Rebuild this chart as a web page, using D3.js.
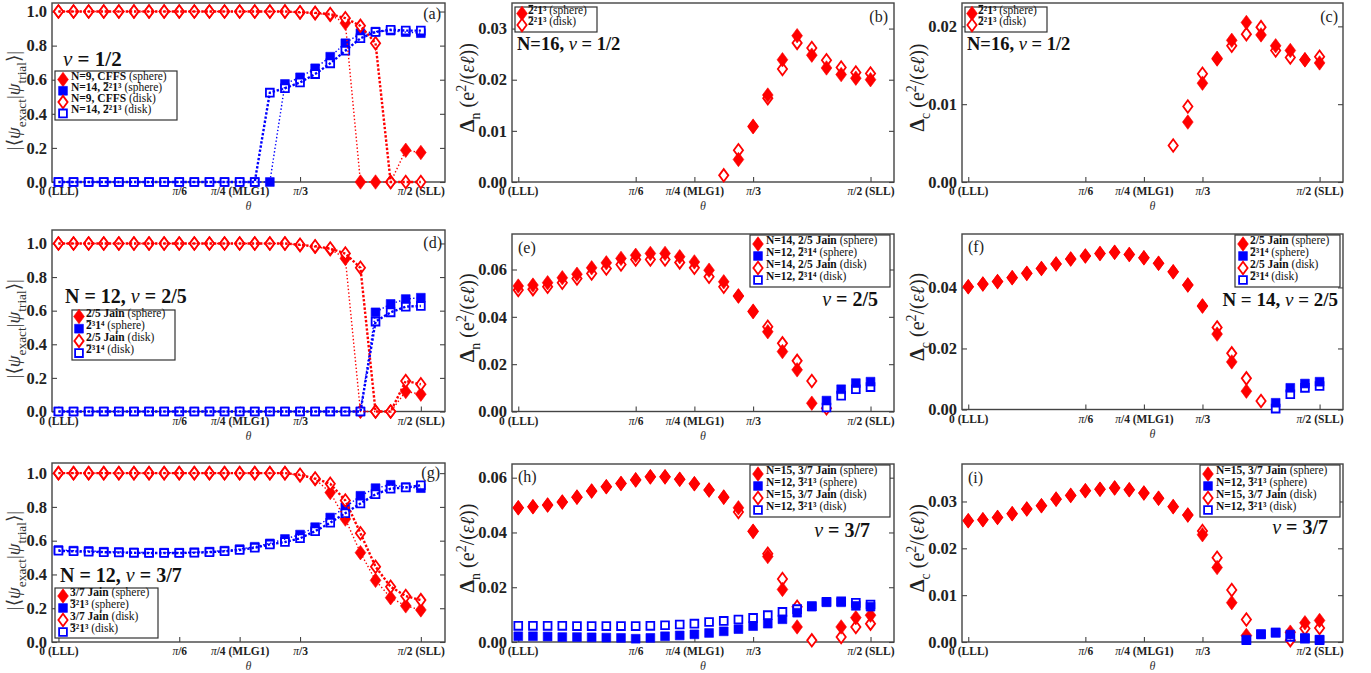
<!DOCTYPE html>
<html><head><meta charset="utf-8">
<script src="https://cdn.jsdelivr.net/npm/d3@7"></script>
<style>body{margin:0;background:#fff} svg text{font-family:"Liberation Serif","DejaVu Serif",serif}</style>
</head><body><svg id="c" width="1371" height="673"></svg>
<script>
// ---------------- data ----------------
const thetaDeg = [0,3.75,7.5,11.25,15,18.75,22.5,26.25,30,33.75,37.5,41.25,45,48.75,52.5,56.25,60,63.75,67.5,71.25,75,78.75,82.5,86.25,90];
const xTickValues = [0,30,45,60,90];
const xTickLabels = [["","0 (LLL)"],["π","/6"],["π","/4 (MLG1)"],["π","/3"],["π","/2 (SLL)"]];
const N = null;

// (a) overlaps, nu=1/2
const a_redSphere  = [1,1,1,1,1,1,1,1,1,1,1,1,1,1,1,1,0.994,0.99,0.98,0.932,0,0,0,0.186,0.173];
const a_blueSphere = [0,0,0,0,0,0,0,0,0,0,0,0,0,0,0,0.575,0.614,0.667,0.735,0.814,0.873,0.882,0.888,0.879,0.873];
const a_redDisk    = [1,1,1,1,1,1,1,1,1,1,1,1,1,1,1,1,0.996,0.992,0.985,0.961,0.916,0.814,0,0,0];
const a_blueDisk   = [0,0,0,0,0,0,0,0,0,0,0,0,0,0,0.524,0.55,0.584,0.633,0.696,0.77,0.843,0.88,0.893,0.888,0.888];
// (b) Delta_n, N=16 nu=1/2
const b_sphere = [N,N,N,N,N,N,N,N,N,N,N,N,N,N,N,0.0044,0.0108,0.0170,0.0239,0.0286,0.0248,0.0223,0.0210,0.0203,0.0200];
const b_disk   = [N,N,N,N,N,N,N,N,N,N,N,N,N,N,0.0013,0.0062,0.0109,0.0164,0.0221,0.0272,0.0262,0.0238,0.0224,0.0214,0.0212];
// (c) Delta_c, N=16 nu=1/2
const c_sphere = [N,N,N,N,N,N,N,N,N,N,N,N,N,N,N,0.0077,0.0127,0.0159,0.0182,0.0205,0.0189,0.0175,0.0169,0.0157,0.0153];
const c_disk   = [N,N,N,N,N,N,N,N,N,N,N,N,N,N,0.0047,0.0097,0.0139,0.0158,0.0175,0.0190,0.0199,0.0169,0.0160,0.0157,0.0161];
// (d) overlaps, N=12 nu=2/5
const d_redSphere  = [1,1,1,1,1,1,1,1,1,1,1,1,1,1,1,1,0.99,0.98,0.966,0.911,0,0,0,0.119,0.103];
const d_blueSphere = [0,0,0,0,0,0,0,0,0,0,0,0,0,0,0,0,0,0,0,0,0,0.59,0.64,0.669,0.677];
const d_redDisk    = [1,1,1,1,1,1,1,1,1,1,1,1,1,1,1,1,0.992,0.983,0.97,0.94,0.855,0,0,0.182,0.162];
const d_blueDisk   = [0,0,0,0,0,0,0,0,0,0,0,0,0,0,0,0,0,0,0,0,0,0.535,0.59,0.624,0.628];
// (e) Delta_n, nu=2/5
const e_redSphere  = [0.0530,0.0534,0.0544,0.0565,0.0580,0.0607,0.0628,0.0647,0.0660,0.0668,0.0668,0.0654,0.0632,0.0597,0.0548,0.0488,0.0422,0.0337,0.0253,0.0176,0.0035,N,N,N,N];
const e_blueSphere = [N,N,N,N,N,N,N,N,N,N,N,N,N,N,N,N,N,N,N,N,N,0.0046,0.0094,0.0120,0.0126];
const e_redDisk    = [0.0513,0.0517,0.0527,0.0544,0.0562,0.0583,0.0604,0.0621,0.0642,0.0642,0.0642,0.0630,0.0607,0.0569,0.0527,0.0488,0.0424,0.0358,0.0288,0.0214,0.0129,0.0014,N,N,N];
const e_blueDisk   = [N,N,N,N,N,N,N,N,N,N,N,N,N,N,N,N,N,N,N,N,N,0.0017,0.0067,0.0094,0.0103];
// (f) Delta_c, N=14 nu=2/5
const f_redSphere  = [0.0402,0.0411,0.0419,0.0432,0.0446,0.0462,0.0477,0.0493,0.0503,0.0511,0.0515,0.0508,0.0497,0.0479,0.0451,0.0408,0.0339,0.0247,0.0156,0.0060,N,N,N,N,N];
const f_blueSphere = [N,N,N,N,N,N,N,N,N,N,N,N,N,N,N,N,N,N,N,N,N,0.0022,0.0071,0.0085,0.0091];
const f_redDisk    = [0.0402,0.0411,0.0419,0.0432,0.0446,0.0462,0.0477,0.0493,0.0503,0.0511,0.0515,0.0508,0.0497,0.0479,0.0451,0.0408,0.0339,0.0269,0.0184,0.0102,0.0028,N,N,N,N];
const f_blueDisk   = [N,N,N,N,N,N,N,N,N,N,N,N,N,N,N,N,N,N,N,N,N,0.0003,0.0050,0.0071,0.0077];
// (g) overlaps, N=12 nu=3/7
const g_redSphere  = [1,1,1,1,1,1,1,1,1,1,1,1,1,1,1,1,0.986,0.965,0.885,0.728,0.529,0.365,0.262,0.214,0.19];
const g_blueSphere = [0.545,0.541,0.539,0.535,0.533,0.531,0.529,0.529,0.529,0.531,0.535,0.541,0.55,0.564,0.584,0.61,0.636,0.68,0.737,0.798,0.866,0.911,0.931,0.917,0.911];
const g_redDisk    = [1,1,1,1,1,1,1,1,1,1,1,1,1,1,1,1,0.99,0.968,0.937,0.838,0.644,0.446,0.327,0.272,0.248];
const g_blueDisk   = [0.540,0.537,0.535,0.532,0.530,0.528,0.527,0.527,0.527,0.529,0.532,0.537,0.545,0.558,0.578,0.592,0.614,0.656,0.706,0.763,0.82,0.875,0.908,0.915,0.928];
// (h) Delta_n, nu=3/7
const h_redSphere  = [0.0490,0.0494,0.0500,0.0511,0.0529,0.0551,0.0567,0.0579,0.0592,0.0603,0.0603,0.0594,0.0578,0.0555,0.0529,0.0490,0.0404,0.0312,0.0192,0.0055,N,N,0.0055,0.0089,0.0098];
const h_blueSphere = [0.0021,0.0021,0.0020,0.0018,0.0018,0.0017,0.0016,0.0015,0.0012,0.0015,0.0021,0.0024,0.0028,0.0033,0.0039,0.0047,0.0058,0.0067,0.0083,0.0107,0.0129,0.0145,0.0145,0.0132,0.0129];
const h_redDisk    = [0.0490,0.0494,0.0500,0.0511,0.0529,0.0551,0.0567,0.0579,0.0592,0.0603,0.0603,0.0594,0.0578,0.0555,0.0529,0.0475,0.0404,0.0322,0.0230,0.0129,0.0006,N,0.0018,0.0055,0.0067];
const h_blueDisk   = [0.0059,0.0059,0.0059,0.0059,0.0058,0.0058,0.0058,0.0058,0.0058,0.0059,0.0061,0.0064,0.0067,0.0073,0.0077,0.0082,0.0088,0.0098,0.0110,0.0120,0.0131,0.0147,0.0149,0.0143,0.0137];
// (i) Delta_c, nu=3/7
const i_redSphere  = [0.0259,0.0261,0.0266,0.0274,0.0284,0.0291,0.0305,0.0313,0.0323,0.0326,0.0329,0.0325,0.0318,0.0307,0.0289,0.0271,0.0229,0.0159,0.0084,0.0014,N,N,0.0021,0.0041,0.0046];
const i_blueSphere = [N,N,N,N,N,N,N,N,N,N,N,N,N,N,N,N,N,N,N,0.0005,0.0016,0.0020,0.0016,0.0009,0.0005];
const i_redDisk    = [0.0259,0.0261,0.0266,0.0274,0.0284,0.0291,0.0305,0.0313,0.0323,0.0326,0.0329,0.0325,0.0318,0.0307,0.0289,0.0271,0.0237,0.0180,0.0111,0.0048,N,N,0.0004,0.0029,0.0030];
const i_blueDisk   = [N,N,N,N,N,N,N,N,N,N,N,N,N,N,N,N,N,N,N,0.0004,0.0017,0.0020,0.0011,0.0007,0.0004];

const yTicksOverlap = [0,0.2,0.4,0.6,0.8,1.0];

// ---------------- drawing ----------------
const svg = d3.select('#c');
const RED = '#ff0000', BLUE = '#0000ff';
const cols = [{l:52,r:445},{l:512,r:894},{l:962,r:1343}];
const xDomain = [-1.6, 96];
const LEGEND_FONT = 11.5;

const thinDiamond = {draw(ctx, s){const hy=s/2, hx=s*0.37; ctx.moveTo(0,-hy); ctx.lineTo(hx,0); ctx.lineTo(0,hy); ctx.lineTo(-hx,0); ctx.closePath();}};
const square = {draw(ctx, s){ctx.rect(-s/2,-s/2,s,s);}};

// rich text with tspans; overlined chars get a drawn bar
function rich(t, segs, base, parent){
  let cur = 0, idx = 0; const overs = [];
  segs.forEach(s=>{
    const small = s.sub||s.sup;
    const size = small ? base*0.7 : base;
    const target = s.sub ? base*0.3 : (s.sup ? -base*0.38 : 0);
    const ts = t.append('tspan').text(s.t).attr('font-size', size).attr('dy', target-cur);
    cur = target;
    if (s.b) ts.attr('font-weight','bold');
    if (s.i) ts.attr('font-style','italic');
    if (s.o) overs.push([idx, s.t.length]);
    idx += s.t.length;
  });
  if (parent && overs.length){
    const node = t.node();
    overs.forEach(([start,len])=>{
      const e0 = node.getExtentOfChar(start), e1 = node.getExtentOfChar(start+len-1);
      const yy = e0.y + 0.17*base;
      parent.append('line').attr('x1',e0.x+0.5).attr('x2',e1.x+e1.width-0.5).attr('y1',yy).attr('y2',yy)
        .attr('stroke','#111').attr('stroke-width',1.1);
    });
  }
}

const lgSph = (pre, sym, kind) => {
  const segs = [];
  if (pre) segs.push({t:pre, b:1});
  if (sym) { segs.push({t:sym[0], b:1, o:1}); segs.push({t:sym[1]+' ', b:1}); }
  segs.push({t:'('+kind+')'});
  return segs;
};

function mkSeries(vals, color, filled, shape){ return {vals, color, filled, shape}; }

const panels = [
 {c:0, top:3, bot:182, yd:[0,1.05], yt:yTicksOverlap, fmt:'.1f', kind:'ov', lines:true,
  series:[mkSeries(a_redSphere,RED,true,'d'),mkSeries(a_blueSphere,BLUE,true,'s'),mkSeries(a_redDisk,RED,false,'d'),mkSeries(a_blueDisk,BLUE,false,'s')],
  legend:{x:55,y:71,w:122,h:49,y0:79.5,dy:11.3,mx:63,tx:71,labels:[lgSph('N=9, CFFS ',null,'sphere'),lgSph('N=14, ',['2','²1³'],'sphere'),lgSph('N=9, CFFS ',null,'disk'),lgSph('N=14, ',['2','²1³'],'disk')]},
  tag:{t:'(a)',x:441,y:19,a:'end'},
  note:{x:63,y:66,a:'start',size:21,segs:[{t:'ν',i:1},{t:' = 1/2',b:1}]}},
 {c:1, top:3, bot:182, yd:[0,0.035], yt:[0,0.01,0.02,0.03], fmt:'.2f', kind:'dn', lines:false,
  series:[mkSeries(b_sphere,RED,true,'d'),mkSeries(b_disk,RED,false,'d')],
  legend:{x:515,y:7,w:82,h:25,y0:13.5,dy:11.5,mx:522,tx:528,labels:[lgSph('',['2','²1³'],'sphere'),lgSph('',['2','²1³'],'disk')]},
  tag:{t:'(b)',x:888,y:22,a:'end'},
  note:{x:517,y:50,a:'start',size:18.5,segs:[{t:'N=16, ',b:1},{t:'ν',i:1},{t:' = 1/2',b:1}]}},
 {c:2, top:3, bot:182, yd:[0,0.023], yt:[0,0.01,0.02], fmt:'.2f', kind:'dc', lines:false,
  series:[mkSeries(c_sphere,RED,true,'d'),mkSeries(c_disk,RED,false,'d')],
  legend:{x:965,y:7,w:82,h:25,y0:13.5,dy:11.5,mx:972,tx:978,labels:[lgSph('',['2','²1³'],'sphere'),lgSph('',['2','²1³'],'disk')]},
  tag:{t:'(c)',x:1338,y:22,a:'end'},
  note:{x:967,y:50,a:'start',size:18.5,segs:[{t:'N=16, ',b:1},{t:'ν',i:1},{t:' = 1/2',b:1}]}},
 {c:0, top:230, bot:411.5, yd:[0,1.08], yt:yTicksOverlap, fmt:'.1f', kind:'ov', lines:true,
  series:[mkSeries(d_redSphere,RED,true,'d'),mkSeries(d_blueSphere,BLUE,true,'s'),mkSeries(d_redDisk,RED,false,'d'),mkSeries(d_blueDisk,BLUE,false,'s')],
  legend:{x:72,y:310,w:103,h:50,y0:316.5,dy:12.2,mx:79,tx:86,labels:[lgSph('2/5 Jain ',null,'sphere'),lgSph('',['2','³1⁴'],'sphere'),lgSph('2/5 Jain ',null,'disk'),lgSph('',['2','³1⁴'],'disk')]},
  tag:{t:'(d)',x:442,y:248,a:'end'},
  note:{x:65,y:303,a:'start',size:20,segs:[{t:'N = 12,  ',b:1},{t:'ν',i:1},{t:' = 2/5',b:1}]}},
 {c:1, top:234, bot:411.5, yd:[0,0.075], yt:[0,0.02,0.04,0.06], fmt:'.2f', kind:'dn', lines:false,
  series:[mkSeries(e_redSphere,RED,true,'d'),mkSeries(e_blueSphere,BLUE,true,'s'),mkSeries(e_redDisk,RED,false,'d'),mkSeries(e_blueDisk,BLUE,false,'s')],
  legend:{x:750,y:235,w:140,h:52,y0:244,dy:12,mx:758,tx:766,labels:[lgSph('N=14, 2/5 Jain ',null,'sphere'),lgSph('N=12, ',['2','³1⁴'],'sphere'),lgSph('N=14, 2/5 Jain ',null,'disk'),lgSph('N=12, ',['2','³1⁴'],'disk')]},
  tag:{t:'(e)',x:518,y:253,a:'start'},
  note:{x:878,y:306,a:'end',size:20,segs:[{t:'ν',i:1},{t:' = 2/5',b:1}]}},
 {c:2, top:234, bot:409.5, yd:[0,0.0575], yt:[0,0.02,0.04], fmt:'.2f', kind:'dc', lines:false,
  series:[mkSeries(f_redSphere,RED,true,'d'),mkSeries(f_blueSphere,BLUE,true,'s'),mkSeries(f_redDisk,RED,false,'d'),mkSeries(f_blueDisk,BLUE,false,'s')],
  legend:{x:1235,y:235,w:105,h:52,y0:244,dy:12,mx:1243,tx:1250,labels:[lgSph('2/5 Jain ',null,'sphere'),lgSph('',['2','³1⁴'],'sphere'),lgSph('2/5 Jain ',null,'disk'),lgSph('',['2','³1⁴'],'disk')]},
  tag:{t:'(f)',x:968,y:252,a:'start'},
  note:{x:1338,y:306,a:'end',size:19,segs:[{t:'N = 14,  ',b:1},{t:'ν',i:1},{t:' = 2/5',b:1}]}},
 {c:0, top:463, bot:642, yd:[0,1.06], yt:yTicksOverlap, fmt:'.1f', kind:'ov', lines:true,
  series:[mkSeries(g_redSphere,RED,true,'d'),mkSeries(g_blueSphere,BLUE,true,'s'),mkSeries(g_redDisk,RED,false,'d'),mkSeries(g_blueDisk,BLUE,false,'s')],
  legend:{x:55,y:588,w:103,h:50,y0:596,dy:12,mx:63,tx:70,labels:[lgSph('3/7 Jain ',null,'sphere'),lgSph('',['3','²1³'],'sphere'),lgSph('3/7 Jain ',null,'disk'),lgSph('',['3','²1³'],'disk')]},
  tag:{t:'(g)',x:440,y:478,a:'end'},
  note:{x:60,y:582,a:'start',size:20,segs:[{t:'N = 12,  ',b:1},{t:'ν',i:1},{t:' = 3/7',b:1}]}},
 {c:1, top:464, bot:642, yd:[0,0.065], yt:[0,0.02,0.04,0.06], fmt:'.2f', kind:'dn', lines:false,
  series:[mkSeries(h_redSphere,RED,true,'d'),mkSeries(h_blueSphere,BLUE,true,'s'),mkSeries(h_redDisk,RED,false,'d'),mkSeries(h_blueDisk,BLUE,false,'s')],
  legend:{x:750,y:465,w:140,h:52,y0:474,dy:12,mx:758,tx:766,labels:[lgSph('N=15, 3/7 Jain ',null,'sphere'),lgSph('N=12, ',['3','²1³'],'sphere'),lgSph('N=15, 3/7 Jain ',null,'disk'),lgSph('N=12, ',['3','²1³'],'disk')]},
  tag:{t:'(h)',x:518,y:482,a:'start'},
  note:{x:870,y:537,a:'end',size:20,segs:[{t:'ν',i:1},{t:' = 3/7',b:1}]}},
 {c:2, top:464, bot:642, yd:[0,0.038], yt:[0,0.01,0.02,0.03], fmt:'.2f', kind:'dc', lines:false,
  series:[mkSeries(i_redSphere,RED,true,'d'),mkSeries(i_blueSphere,BLUE,true,'s'),mkSeries(i_redDisk,RED,false,'d'),mkSeries(i_blueDisk,BLUE,false,'s')],
  legend:{x:1200,y:465,w:140,h:52,y0:474,dy:12,mx:1208,tx:1216,labels:[lgSph('N=15, 3/7 Jain ',null,'sphere'),lgSph('N=12, ',['3','²1³'],'sphere'),lgSph('N=15, 3/7 Jain ',null,'disk'),lgSph('N=12, ',['3','²1³'],'disk')]},
  tag:{t:'(i)',x:968,y:483,a:'start'},
  note:{x:1328,y:534,a:'end',size:20,segs:[{t:'ν',i:1},{t:' = 3/7',b:1}]}}
];

function drawMarker(sel, shape, color, filled){
  const sym = d3.symbol().type(shape==='d'?thinDiamond:square).size(shape==='d'?(filled?14.5:12.5):(filled?8.8:7.8));
  sel.attr('d', sym).attr('fill', filled?color:'#fff').attr('stroke', color)
     .attr('stroke-width', filled?0.6:1.8).attr('stroke-linejoin','miter');
}

panels.forEach(p=>{
  const col = cols[p.c];
  const x = d3.scaleLinear().domain(xDomain).range([col.l, col.r]);
  const y = d3.scaleLinear().domain(p.yd).range([p.bot, p.top]);
  const g = svg.append('g');

  // frame
  g.append('rect').attr('x',col.l).attr('y',p.top).attr('width',col.r-col.l).attr('height',p.bot-p.top)
    .attr('fill','none').attr('stroke','#444').attr('stroke-width',1.4);

  // axes
  const ax = g.append('g').attr('transform',`translate(${col.l},0)`)
    .call(d3.axisLeft(y).tickValues(p.yt).tickFormat(d3.format(p.fmt)).tickSizeInner(-5).tickSizeOuter(0).tickPadding(5));
  ax.select('.domain').remove();
  ax.selectAll('line').attr('stroke','#444').attr('stroke-width',1.1);
  ax.selectAll('text').attr('font-size',16.5).attr('font-weight','bold').attr('fill','#222')
    .attr('font-family','"Liberation Serif",serif');

  const axr = g.append('g').attr('transform',`translate(${col.r},0)`)
    .call(d3.axisRight(y).tickValues(p.yt).tickFormat('').tickSizeInner(-5).tickSizeOuter(0));
  axr.select('.domain').remove();
  axr.selectAll('line').attr('stroke','#444').attr('stroke-width',1.1);

  const axb = g.append('g').attr('transform',`translate(0,${p.bot})`)
    .call(d3.axisBottom(x).tickValues(xTickValues).tickFormat('').tickSizeInner(-5).tickSizeOuter(0).tickPadding(5));
  axb.select('.domain').remove();
  axb.selectAll('line').attr('stroke','#444').attr('stroke-width',1.1);
  axb.selectAll('.tick text').each(function(d,i){
    const t = d3.select(this).text(null).attr('font-size',11.5).attr('fill','#222').attr('dy','0.71em');
    const lab = xTickLabels[i];
    if (lab[0]) t.append('tspan').attr('font-style','italic').text(lab[0]);
    t.append('tspan').attr('font-weight','bold').text(lab[1]);
  });

  // theta label
  g.append('text').attr('x',(col.l+col.r)/2).attr('y',p.bot+28).attr('text-anchor','middle')
    .attr('font-size',12).attr('font-style','italic').attr('fill','#333').text('θ');

  // y label
  const cy = (p.top+p.bot)/2;
  if (p.kind==='ov'){
    const t = g.append('text').attr('transform',`translate(20,${cy+8}) rotate(-90)`).attr('text-anchor','middle').attr('fill','#333');
    rich(t,[{t:'|⟨'},{t:'ψ',i:1},{t:'exact',sub:1},{t:'|'},{t:'ψ',i:1},{t:'trial',sub:1},{t:'⟩|'}],19);
  } else {
    const lx = p.c===1 ? 474 : 924;
    const t = g.append('text').attr('transform',`translate(${lx},${cy-5}) rotate(-90)`).attr('text-anchor','middle').attr('fill','#222');
    rich(t,[{t:'Δ',b:1},{t:p.kind==='dn'?'n':'c',sub:1},{t:' (e'},{t:'2',sup:1},{t:'/('},{t:'εℓ',i:1},{t:'))'}],20);
  }

  // markers: overlap panels -> open (disk) drawn on top; gap panels -> filled (sphere) on top
  const order = p.lines ? p.series : p.series.filter(s=>!s.filled).concat(p.series.filter(s=>s.filled));
  order.forEach(s=>{
    const pts = s.vals.map((v,i)=>({t:thetaDeg[i], v})).filter(d=>d.v!==null);
    g.append('g').selectAll('path').data(pts).join('path')
      .attr('transform', d=>`translate(${x(d.t)},${y(d.v)})`)
      .call(sel=>drawMarker(sel, s.shape, s.color, s.filled));
  });

  // dotted lines (overlap panels)
  if (p.lines){
    p.series.forEach(s=>{
      const line = d3.line().defined(d=>d.v!==null).x(d=>x(d.t)).y(d=>y(d.v));
      const data = s.vals.map((v,i)=>({t:thetaDeg[i], v}));
      g.append('path').attr('d', line(data)).attr('fill','none').attr('stroke', s.color)
        .attr('stroke-width', s.filled?1.4:2.4).attr('stroke-dasharray', s.filled?'1.4 2.2':'2.4 1.8');
    });
  }

  // legend
  const L = p.legend;
  const lg = g.append('g');
  lg.append('rect').attr('x',L.x).attr('y',L.y).attr('width',L.w).attr('height',L.h)
    .attr('fill','#fff').attr('stroke','#333').attr('stroke-width',1.2);
  L.labels.forEach((lab,k)=>{
    const s = p.series[k];
    const yy = L.y0 + k*L.dy;
    lg.append('path').attr('transform',`translate(${L.mx},${yy})`).call(sel=>drawMarker(sel, s.shape, s.color, s.filled));
    const t = lg.append('text').attr('x',L.tx).attr('y',yy).attr('dy','0.35em').attr('fill','#111');
    rich(t, lab, LEGEND_FONT, lg);
  });

  // tag
  g.append('text').attr('x',p.tag.x).attr('y',p.tag.y).attr('text-anchor',p.tag.a)
    .attr('font-size',16).attr('fill','#222').text(p.tag.t);
  // note
  const nt = g.append('text').attr('x',p.note.x).attr('y',p.note.y).attr('text-anchor',p.note.a).attr('fill','#111');
  rich(nt, p.note.segs, p.note.size);
});
</script></body></html>
